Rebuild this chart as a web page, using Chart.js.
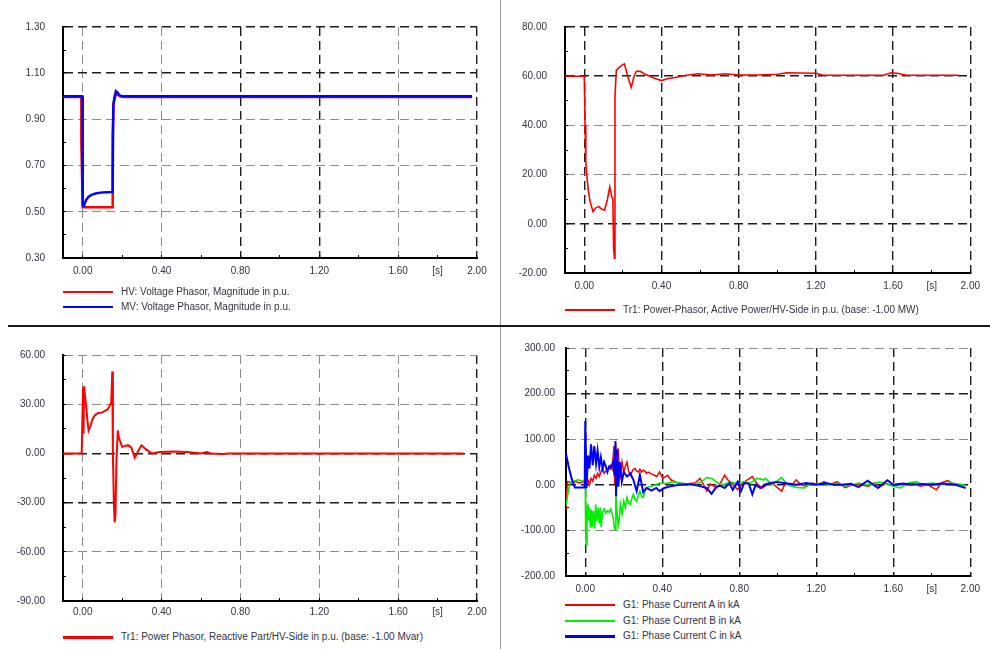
<!DOCTYPE html>
<html>
<head>
<meta charset="utf-8">
<script src="https://cdn.jsdelivr.net/npm/chart.js@4.4.1/dist/chart.umd.min.js"></script>
<style>
  body { margin: 0; background: #fff; width: 990px; height: 649px; overflow: hidden; position: relative;
         font-family: "Liberation Sans", Arial, sans-serif; }
  canvas { position: absolute; }
  .sep-v { position: absolute; left: 500px; top: 0; width: 1px; height: 649px; background: #9a9a9a; }
  .sep-h { position: absolute; left: 8px; top: 325px; width: 982px; height: 2px; background: #1a1a1a; }
  .leg { position: absolute; font-size: 10px; color: #333340; white-space: nowrap; height: 14px; line-height: 14px; }
  .leg i { position: absolute; left: 0; width: 50px; }
  .leg span { position: absolute; left: 58px; top: 0; }
</style>
</head>
<body>
<div class="sep-v"></div>
<div class="sep-h"></div>
<canvas id="volt" width="500" height="285" style="left:0;top:0"></canvas>
<canvas id="active" width="490" height="300" style="left:500px;top:0"></canvas>
<canvas id="reactive" width="500" height="300" style="left:0;top:328px"></canvas>
<canvas id="current" width="490" height="270" style="left:500px;top:328px"></canvas>
<script>
// time axis [s], labels on every other tick, "[s]" in place of 1.80
const xTicks = [0, 0.2, 0.4, 0.6, 0.8, 1.0, 1.2, 1.4, 1.6, 1.8, 2.0];

const voltTicks = [0.3, 0.4, 0.5, 0.6, 0.7, 0.8, 0.9, 1.0, 1.1, 1.2, 1.3];
const activeTicks = [-20, -10, 0, 10, 20, 30, 40, 50, 60, 70, 80];
const reactiveTicks = [-90, -75, -60, -45, -30, -15, 0, 15, 30, 45, 60];
const currentTicks = [-200, -150, -100, -50, 0, 50, 100, 150, 200, 250, 300];

// [t, value] samples
const hvMag = [
  [-0.1, 0.997], [-0.004, 0.997], [-0.007, 0.8], [0.0, 0.52], [0.005, 0.52], [0.15, 0.52],
  [0.151, 0.58], [0.153, 0.83], [0.157, 0.97], [0.165, 1.0], [0.175, 1.01], [0.19, 1.0],
  [0.21, 0.997], [1.975, 0.997]
];
const mvMag = [
  [-0.1, 1.0], [-0.003, 1.0], [0.0, 0.53], [0.006, 0.525], [0.012, 0.54], [0.02, 0.555],
  [0.03, 0.565], [0.045, 0.573], [0.065, 0.579], [0.09, 0.583], [0.12, 0.585], [0.15, 0.586],
  [0.152, 0.65], [0.155, 0.96], [0.16, 0.99], [0.168, 1.022], [0.176, 1.017], [0.186, 1.005],
  [0.2, 1.0], [1.975, 1.0]
];

const activePower = [
  [-0.1, 60], [0.0, 60], [0.004, 40], [0.008, 25], [0.014, 19], [0.02, 14], [0.03, 9], [0.045, 5],
  [0.06, 6.5], [0.075, 7], [0.09, 6], [0.105, 5.5], [0.12, 10], [0.132, 15], [0.142, 11], [0.148, 10],
  [0.152, -10], [0.156, -14], [0.159, 52], [0.166, 62.5], [0.18, 63.5], [0.195, 64.5], [0.208, 65],
  [0.225, 60], [0.243, 55.5], [0.258, 60], [0.27, 62], [0.29, 62], [0.31, 61], [0.34, 60], [0.37, 59],
  [0.4, 58.2], [0.43, 59], [0.47, 59.5], [0.52, 60.3], [0.59, 61], [0.66, 60.5], [0.73, 61], [0.8, 60.5],
  [0.9, 60.5], [1.0, 60.8], [1.05, 61.4], [1.2, 61.2], [1.24, 60.4], [1.55, 60.4], [1.59, 61.4],
  [1.62, 61.2], [1.67, 60.4], [1.94, 60.4]
];

const reactivePower = [
  [-0.1, 0], [-0.005, 0], [-0.001, 25], [0.002, 40], [0.004, 12], [0.007, 41], [0.012, 35], [0.018, 28],
  [0.024, 20], [0.03, 14], [0.04, 17], [0.05, 21], [0.06, 23], [0.075, 24.5], [0.1, 25], [0.128, 27],
  [0.145, 31], [0.15, 50], [0.153, 0], [0.158, -30], [0.162, -42], [0.166, -38], [0.171, -5], [0.178, 14],
  [0.183, 10], [0.188, 8], [0.2, 4], [0.23, 5], [0.247, 3.5], [0.264, -2.6], [0.28, 1.2], [0.298, 4.9],
  [0.32, 2.6], [0.35, 0], [0.39, 0.9], [0.46, 1.2], [0.53, 0.9], [0.6, 0], [0.63, 0.8], [0.65, 0],
  [0.71, -0.3], [0.74, 0], [1.93, 0]
];

const phaseA = [
  [-0.1, -53], [-0.093, 7], [-0.08, 6], [-0.071, 4], [-0.05, 7], [-0.03, 4], [-0.01, 7], [0.0, 5], [0.007, 12], [0.014, 11],
  [0.022, 0], [0.03, 14], [0.039, 8], [0.047, 21], [0.056, 14], [0.064, 25], [0.073, 18], [0.081, 28], [0.09, 38], [0.098, 25],
  [0.107, 30], [0.115, 32], [0.124, 38], [0.132, 43], [0.14, 35], [0.149, 85], [0.153, 0], [0.157, 90], [0.162, 40], [0.166, 28],
  [0.171, 80], [0.176, 40], [0.183, 21], [0.191, 50], [0.2, 28], [0.208, 40], [0.217, 50], [0.225, 30], [0.234, 21], [0.242, 28],
  [0.25, 34], [0.259, 36], [0.267, 30], [0.276, 28], [0.284, 34], [0.293, 28], [0.301, 32], [0.31, 30], [0.318, 25], [0.327, 28],
  [0.344, 24], [0.36, 21], [0.37, 18], [0.386, 28], [0.403, 14], [0.428, 21], [0.445, 11], [0.48, 4], [0.52, 2], [0.57, 4],
  [0.596, 14], [0.61, 4], [0.631, -14], [0.65, 2], [0.682, -7], [0.7, 2], [0.724, 21], [0.74, 11], [0.765, 2], [0.792, -11],
  [0.815, 2], [0.842, 11], [0.868, 18], [0.893, 2], [0.919, -7], [0.95, 2], [0.97, 4], [1.02, -14], [1.04, 4], [1.07, -2],
  [1.096, 11], [1.12, 0], [1.15, -3], [1.18, 4], [1.21, 0], [1.24, 7], [1.27, 0], [1.308, 7], [1.35, -6], [1.39, 0],
  [1.43, 0], [1.47, -3], [1.5, 4], [1.53, -4], [1.56, 3], [1.6, -2], [1.64, 0], [1.68, 3], [1.706, 4], [1.74, -3],
  [1.78, 0], [1.824, -11], [1.85, 4], [1.883, 9], [1.92, 0], [1.96, -4]
];
const phaseB = [
  [-0.1, -45], [-0.09, -20], [-0.08, 4], [-0.06, 8], [-0.037, 11], [-0.02, 9], [-0.005, 8], [0.0, 0], [0.002, -100], [0.005, -132],
  [0.009, -60], [0.014, -43], [0.018, -78], [0.022, -50], [0.027, -95], [0.032, -55], [0.037, -93], [0.042, -57], [0.049, -96], [0.054, -43],
  [0.06, -80], [0.067, -50], [0.073, -85], [0.078, -50], [0.083, -93], [0.09, -60], [0.098, -53], [0.107, -62], [0.115, -57], [0.124, -60],
  [0.132, -53], [0.14, -65], [0.145, -71], [0.151, -95], [0.155, -98], [0.159, -20], [0.163, -50], [0.166, -64], [0.171, -90], [0.176, -78],
  [0.183, -43], [0.191, -64], [0.2, -36], [0.208, -50], [0.217, -28], [0.225, -40], [0.234, -43], [0.242, -30], [0.25, -21], [0.259, -32],
  [0.267, -36], [0.276, -22], [0.284, -14], [0.293, -25], [0.301, -28], [0.31, -15], [0.318, -7], [0.335, -4], [0.36, -1], [0.386, 4],
  [0.42, 3], [0.454, 7], [0.49, 4], [0.53, 2], [0.57, 0], [0.605, 7], [0.631, 16], [0.656, 14], [0.69, 4], [0.72, 0],
  [0.75, 7], [0.79, 2], [0.826, 7], [0.86, 4], [0.893, 14], [0.927, 11], [0.936, 14], [0.97, 0], [1.02, 16], [1.05, 0],
  [1.096, -6], [1.138, -7], [1.17, 3], [1.2, 0], [1.23, 4], [1.27, 0], [1.31, 4], [1.35, -3], [1.39, 0], [1.42, 4],
  [1.46, 0], [1.49, 2], [1.53, 6], [1.57, 1], [1.6, -3], [1.636, -7], [1.68, 4], [1.72, 7], [1.75, 0], [1.8, 4],
  [1.85, 0], [1.9, 4], [1.97, 0]
];
const phaseC = [
  [-0.1, 68], [-0.088, 43], [-0.071, 14], [-0.054, -6], [-0.003, -6], [0.0, 140], [0.004, 60], [0.007, -7], [0.014, 64], [0.022, 36],
  [0.03, 89], [0.039, 43], [0.047, 85], [0.056, 46], [0.064, 75], [0.073, 39], [0.081, 60], [0.09, 36], [0.098, 50], [0.107, 40],
  [0.115, 28], [0.124, 40], [0.132, 36], [0.145, 50], [0.152, 20], [0.157, 96], [0.16, -25], [0.166, 78], [0.172, -4], [0.18, 50],
  [0.19, 7], [0.2, 28], [0.217, 18], [0.234, 25], [0.25, 11], [0.267, -14], [0.284, 21], [0.301, -16], [0.318, -7], [0.344, -13],
  [0.369, -7], [0.386, -14], [0.41, -7], [0.437, -4], [0.487, 0], [0.553, 1], [0.605, -4], [0.631, -7], [0.656, -20], [0.682, -4],
  [0.7, -2], [0.724, -7], [0.75, 4], [0.766, -11], [0.792, 7], [0.809, -14], [0.826, 4], [0.85, 2], [0.868, -21], [0.885, 0],
  [0.91, -7], [0.935, 1], [0.961, 4], [0.995, 6], [1.05, 3], [1.096, 0], [1.15, 4], [1.198, 0], [1.25, 4], [1.29, 0],
  [1.333, 0], [1.38, 2], [1.42, -5], [1.467, 9], [1.52, -7], [1.57, 10], [1.6, 0], [1.65, 3], [1.7, 0], [1.75, 2],
  [1.8, 0], [1.85, 3], [1.925, 0], [1.976, -7]
];

const FONT = { family: "'Liberation Sans', Arial, sans-serif", size: 10 };
const TEXT = '#333340';
const GRID_DARK = '#1c1c1c';
const GRID_LIGHT = '#8c8c8c';
const DASH = [9, 5];

function hasValue(list, v) {
  return list.some(d => Math.abs(d - v) < 1e-6);
}

// grid line at every second tick, minor ticks only get the short inward mark
function gridFor(dark) {
  return {
    color: c => c.index % 2 ? 'rgba(0,0,0,0)' : (hasValue(dark, c.tick.value) ? GRID_DARK : GRID_LIGHT),
    lineWidth: c => hasValue(dark, c.tick.value) ? 1.4 : 1,
    tickLength: -3,
    tickColor: '#000',
    tickWidth: 1
  };
}

function makePanel(id, p) {
  return new Chart(document.getElementById(id), {
    type: 'line',
    data: {
      datasets: p.series.map(s => ({
        label: s.label,
        data: s.points.map(pt => ({ x: pt[0], y: pt[1] })),
        borderColor: s.color,
        borderWidth: s.width,
        pointRadius: 0,
        tension: 0,
        order: s.order
      }))
    },
    options: {
      responsive: false,
      animation: false,
      layout: { padding: { left: 0, right: p.right, top: p.top, bottom: 0 } },
      plugins: { legend: { display: false }, tooltip: { enabled: false } },
      scales: {
        x: {
          type: 'linear',
          min: -0.1,
          max: 2.0,
          afterBuildTicks: s => { s.ticks = xTicks.map(v => ({ value: v })); },
          afterFit: s => { s.height = p.xHeight; },
          ticks: {
            font: FONT, color: TEXT, padding: p.xPad, maxRotation: 0, autoSkip: false,
            callback: (v, i) => i === 9 ? '[s]' : (i % 2 ? '' : v.toFixed(2))
          },
          grid: gridFor(p.darkX),
          border: { color: '#000', width: 2, dash: DASH }
        },
        y: {
          type: 'linear',
          min: p.yTicks[0],
          max: p.yTicks[p.yTicks.length - 1],
          afterBuildTicks: s => { s.ticks = p.yTicks.map(v => ({ value: v })); },
          afterFit: s => { s.width = p.yWidth; },
          ticks: {
            font: FONT, color: TEXT, padding: p.yPad, autoSkip: false,
            callback: (v, i) => i % 2 ? '' : v.toFixed(2)
          },
          grid: gridFor(p.darkY),
          border: { color: '#000', width: 2, dash: DASH }
        }
      }
    }
  });
}

// legend rows below each plot
function addLegend(x, y, step, series) {
  series.forEach((s, i) => {
    const row = document.createElement('div');
    row.className = 'leg';
    row.style.left = x + 'px';
    row.style.top = (y + i * step - 7) + 'px';
    const line = document.createElement('i');
    line.style.background = s.color;
    line.style.height = s.legendWidth + 'px';
    line.style.top = (7 - s.legendWidth / 2) + 'px';
    const txt = document.createElement('span');
    txt.textContent = s.label;
    row.appendChild(line);
    row.appendChild(txt);
    document.body.appendChild(row);
  });
}

const voltSeries = [
  { label: 'HV: Voltage Phasor, Magnitude in p.u.', points: hvMag, color: '#ff0000', width: 2.5, legendWidth: 2, order: 1 },
  { label: 'MV: Voltage Phasor, Magnitude in p.u.', points: mvMag, color: '#0000ff', width: 2.5, legendWidth: 2, order: 0 }
];
const activeSeries = [
  { label: 'Tr1: Power-Phasor, Active Power/HV-Side in p.u. (base: -1.00 MW)', points: activePower, color: '#ff0000', width: 1.6, legendWidth: 1.5, order: 0 }
];
const reactiveSeries = [
  { label: 'Tr1: Power Phasor, Reactive Part/HV-Side in p.u. (base: -1.00 Mvar)', points: reactivePower, color: '#ff0000', width: 2, legendWidth: 3, order: 0 }
];
const currentSeries = [
  { label: 'G1: Phase Current A in kA', points: phaseA, color: '#ff0000', width: 1.5, legendWidth: 1.5, order: 2 },
  { label: 'G1: Phase Current B in kA', points: phaseB, color: '#00ee00', width: 1.6, legendWidth: 2, order: 1 },
  { label: 'G1: Phase Current C in kA', points: phaseC, color: '#0000ff', width: 2, legendWidth: 3, order: 0 }
];

makePanel('volt', {
  series: voltSeries, yTicks: voltTicks, top: 14, right: 23, yWidth: 63, xHeight: 21,
  xPad: 10, yPad: 21, darkX: [0.8, 1.2, 2.0], darkY: [1.1, 1.3]
});
makePanel('active', {
  series: activeSeries, yTicks: activeTicks, top: 14, right: 12, yWidth: 65, xHeight: 21,
  xPad: 10, yPad: 21, darkX: [0, 0.4, 0.8, 1.2, 1.6, 2.0], darkY: [80, 60, 0]
});
makePanel('reactive', {
  series: reactiveSeries, yTicks: reactiveTicks, top: 15, right: 23, yWidth: 63, xHeight: 18,
  xPad: 8, yPad: 21, darkX: [2.0], darkY: [0, -30]
});
makePanel('current', {
  series: currentSeries, yTicks: currentTicks, top: 14, right: 12, yWidth: 66, xHeight: 22,
  xPad: 10, yPad: 14, darkX: [0, 0.4, 0.8, 1.2, 1.6, 2.0], darkY: [200, 0]
});

addLegend(63, 292, 15, voltSeries);
addLegend(565, 310, 15, activeSeries);
addLegend(63, 637, 15, reactiveSeries);
addLegend(565, 605, 15.5, currentSeries);
</script>
</body>
</html>
